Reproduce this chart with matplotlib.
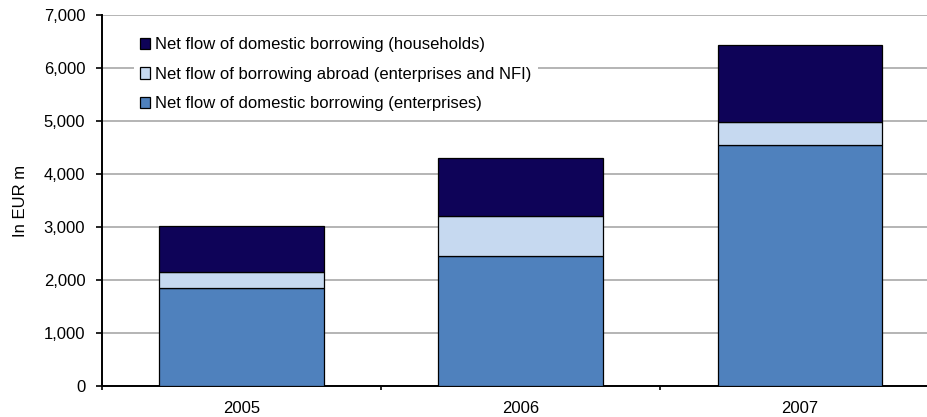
import matplotlib
matplotlib.use('Agg')
import matplotlib.pyplot as plt
import numpy as np
from matplotlib.ticker import FuncFormatter, FixedLocator

plt.rcParams['font.family'] = ['Liberation Sans', 'DejaVu Sans']

years = ['2005', '2006', '2007']
enterprises = [1850, 2450, 4550]   # domestic borrowing, enterprises
abroad = [310, 750, 430]           # borrowing abroad, enterprises and NFI
households = [860, 1110, 1460]     # domestic borrowing, households
y_ticks = [0, 1000, 2000, 3000, 4000, 5000, 6000, 7000]

labels = ['Net flow of domestic borrowing (enterprises)',
          'Net flow of borrowing abroad (enterprises and NFI)',
          'Net flow of domestic borrowing (households)']
colors = ['#4F81BD', '#C6D9F0', '#0E0358']

fig = plt.figure(figsize=(9.27, 4.17), dpi=100)
ax = fig.add_axes([0.110, 0.0743, 0.9035, 0.8897])

x = np.arange(len(years))
bottom = np.zeros(len(years))
bars = []
for vals, lab, col in zip([enterprises, abroad, households], labels, colors):
    b = ax.bar(x, vals, width=0.59, bottom=bottom, color=col,
               edgecolor='black', linewidth=0.9, label=lab, zorder=3)
    bars.append(b)
    bottom += np.array(vals)

ax.set_xlim(-0.5, 2.5)
ax.set_ylim(0, 7000)
ax.set_yticks(y_ticks)
ax.yaxis.set_major_formatter(FuncFormatter(lambda v, p: f'{int(v):,}'))
ax.set_xticks(x)
ax.set_xticklabels(years)
ax.xaxis.set_minor_locator(FixedLocator([-0.5, 0.5, 1.5]))
ax.tick_params(axis='x', which='major', length=0, pad=11, labelsize=12)
ax.tick_params(axis='x', which='minor', length=3, width=1.2, direction='out')
ax.tick_params(axis='y', length=4, width=1.2, direction='out', labelsize=12, pad=8)

ax.grid(axis='y', color='#A0A0A0', linewidth=1.1, zorder=0)
ax.set_axisbelow(True)
for s in ['top', 'right']:
    ax.spines[s].set_visible(False)
ax.spines['left'].set_linewidth(1.4)
ax.spines['bottom'].set_linewidth(1.4)

ax.set_ylabel('In EUR m', fontsize=12, labelpad=11)

leg = ax.legend(handles=bars[::-1], loc='upper left',
                bbox_to_anchor=(0.032, 0.969), fontsize=12,
                handlelength=0.65, handleheight=0.65, handletextpad=0.3,
                labelspacing=0.87, borderpad=0.35, borderaxespad=0.3,
                frameon=True, facecolor='white', edgecolor='none',
                framealpha=1.0)
leg.set_zorder(5)

fig.savefig('out.png', dpi=100)
